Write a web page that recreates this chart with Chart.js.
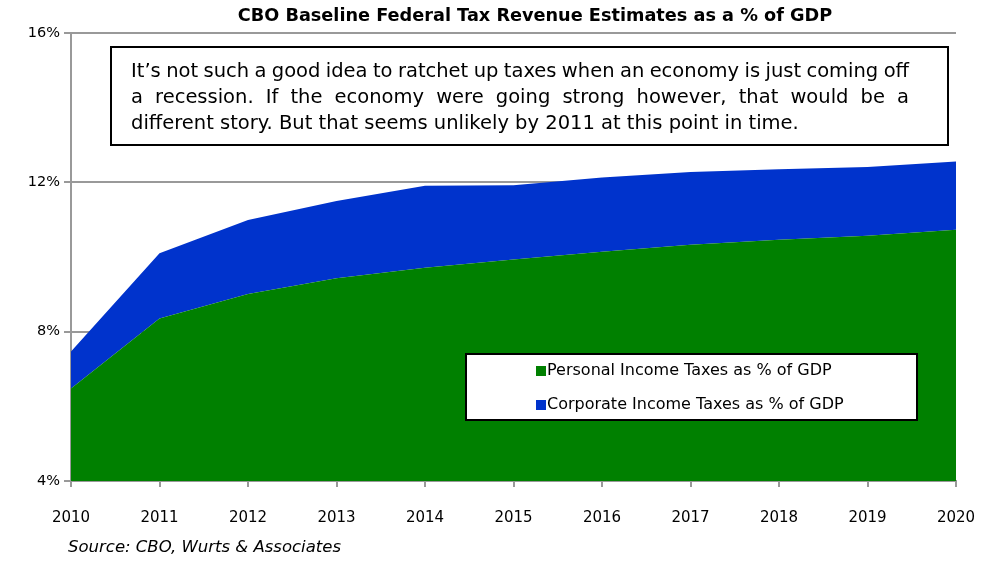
<!DOCTYPE html>
<html>
<head>
<meta charset="utf-8">
<script src="https://cdn.jsdelivr.net/npm/chart.js@4.4.0/dist/chart.umd.min.js"></script>
<style>
html,body{margin:0;padding:0;background:#fff;}
#wrap{width:992px;height:561px;position:relative;}
</style>
</head>
<body>
<div id="wrap"><canvas id="c" width="992" height="561"></canvas></div>
<script>
const years = ['2010','2011','2012','2013','2014','2015','2016','2017','2018','2019','2020'];
const personalIncome = [6.48, 8.35, 9.01, 9.43, 9.71, 9.93, 10.14, 10.33, 10.46, 10.57, 10.73];
const corporateIncome = [0.99, 1.75, 1.98, 2.07, 2.20, 1.99, 1.99, 1.95, 1.89, 1.84, 1.83];
const yTicks = [4, 8, 12, 16];
const seriesLabels = ['Personal Income Taxes as % of GDP', 'Corporate Income Taxes as % of GDP'];
const titleText = 'CBO Baseline Federal Tax Revenue Estimates as a % of GDP';
const noteLines = [
  'It\u2019s not such a good idea to ratchet up taxes when an economy is just coming off',
  'a recession. If the economy were going strong however, that would be a',
  'different story. But that seems unlikely by 2011 at this point in time.'
];
const sourceText = 'Source: CBO, Wurts & Associates';

const FONT = '"DejaVu Sans", sans-serif';
const GREEN = '#008000';
const BLUE = '#0033CC';
const GRAY = '#999999';

function justify(ctx, text, x, y, width) {
  const words = text.split(' ');
  let total = 0;
  words.forEach(w => total += ctx.measureText(w).width);
  const gap = (width - total) / (words.length - 1);
  let cx = x;
  words.forEach(w => { ctx.fillText(w, cx, y); cx += ctx.measureText(w).width + gap; });
}

const overlay = {
  id: 'overlay',
  afterDraw(chart) {
    const ctx = chart.ctx;
    ctx.save();
    // title
    ctx.fillStyle = '#000';
    ctx.font = 'bold 17.7px ' + FONT;
    ctx.textAlign = 'center';
    ctx.textBaseline = 'middle';
    ctx.fillText(titleText, 535, 16);

    // note box
    ctx.fillStyle = '#fff';
    ctx.fillRect(111, 47, 837, 98);
    ctx.strokeStyle = '#000';
    ctx.lineWidth = 2;
    ctx.strokeRect(111, 47, 837, 98);
    ctx.fillStyle = '#000';
    ctx.font = '19.5px ' + FONT;
    ctx.textAlign = 'left';
    ctx.textBaseline = 'middle';
    const noteW = 778;
    justify(ctx, noteLines[0], 131, 72, noteW);
    justify(ctx, noteLines[1], 131, 98, noteW);
    ctx.fillText(noteLines[2], 131, 124);

    // legend
    ctx.fillStyle = '#fff';
    ctx.fillRect(466, 354, 451, 66);
    ctx.strokeStyle = '#000';
    ctx.lineWidth = 2;
    ctx.strokeRect(466, 354, 451, 66);
    ctx.font = '16px ' + FONT;
    chart.data.datasets.forEach((ds, i) => {
      const y = 371 + i * 34;
      ctx.fillStyle = ds.backgroundColor;
      ctx.fillRect(536, y - 5, 10, 10);
      ctx.fillStyle = '#000';
      ctx.fillText(ds.label, 547, y);
    });

    // source
    ctx.font = 'italic 16.5px ' + FONT;
    ctx.fillStyle = '#000';
    ctx.fillText(sourceText, 68, 548);
    ctx.restore();
  }
};

new Chart(document.getElementById('c'), {
  type: 'line',
  data: {
    labels: years,
    datasets: [
      { label: seriesLabels[0], data: personalIncome, backgroundColor: GREEN, borderWidth: 0, pointRadius: 0, fill: 'start', tension: 0 },
      { label: seriesLabels[1], data: corporateIncome, backgroundColor: BLUE, borderWidth: 0, pointRadius: 0, fill: '-1', tension: 0 }
    ]
  },
  options: {
    responsive: false,
    animation: false,
    layout: { padding: { left: 0, right: 36, top: 33, bottom: 0 } },
    plugins: { legend: { display: false }, title: { display: false }, tooltip: { enabled: false } },
    scales: {
      x: {
        offset: false,
        grid: { drawOnChartArea: false, drawTicks: true, tickLength: 6, color: GRAY, lineWidth: 2 },
        border: { display: true, color: GRAY, width: 2 },
        ticks: { color: '#000', font: { family: FONT, size: 15 }, padding: 22, maxRotation: 0 },
        afterFit(s) { s.height = 80; s.paddingLeft = 0; s.paddingRight = 0; }
      },
      y: {
        stacked: true,
        min: 4, max: 16,
        afterBuildTicks(s) { s.ticks = yTicks.map(v => ({ value: v })); },
        grid: { drawOnChartArea: true, drawTicks: true, tickLength: 7, color: GRAY, lineWidth: 2 },
        border: { display: true, color: GRAY, width: 2 },
        ticks: { color: '#000', font: { family: FONT, size: 14.5 }, padding: 4, callback: v => v + '%' },
        afterFit(s) { s.width = 71; s.paddingTop = 0; s.paddingBottom = 0; }
      }
    }
  },
  plugins: [overlay]
});
</script>
</body>
</html>
